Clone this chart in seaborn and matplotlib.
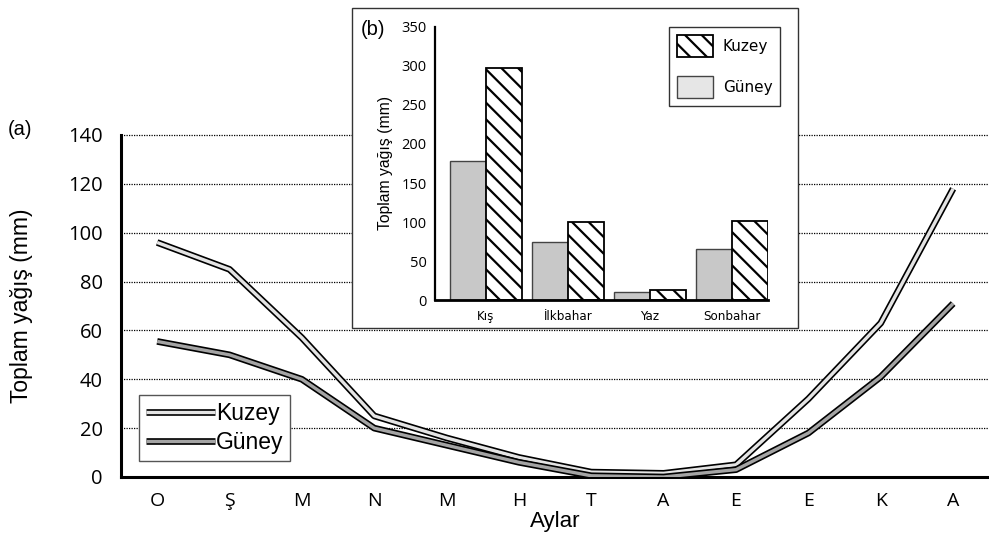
import numpy as np
import pandas as pd
import matplotlib
matplotlib.use('Agg')
import matplotlib.pyplot as plt
import matplotlib.patheffects as pe
from matplotlib.patches import Rectangle, Patch
import seaborn as sns

months = ['O', 'Ş', 'M', 'N', 'M', 'H', 'T', 'A', 'E', 'E', 'K', 'A']
kuzey = [96, 85, 57, 25, 16, 8, 2, 1.5, 5, 32, 63, 118]
guney = [55.5, 50, 40, 20, 13, 6, 0.5, 0, 3, 18, 41, 71]

seasons = ['Kış', 'İlkbahar', 'Yaz', 'Sonbahar']
kuzey_season = [297, 100, 13, 101]
guney_season = [178, 75, 10, 65]

sns.set_style('white')
plt.rcParams['font.family'] = ['Liberation Sans', 'DejaVu Sans']
plt.rcParams['hatch.linewidth'] = 1.6
plt.rcParams['text.color'] = 'black'
plt.rcParams['xtick.color'] = 'black'
plt.rcParams['ytick.color'] = 'black'
plt.rcParams['axes.labelcolor'] = 'black'


def main():
    fig = plt.figure(figsize=(9.89, 5.45), dpi=100)
    ax = fig.add_axes([0.1223, 0.1248, 0.878, 0.6275])

    x = np.arange(len(months))
    df = pd.DataFrame({'x': x, 'Kuzey': kuzey, 'Güney': guney})
    styles = {'Kuzey': '#e4e4e4', 'Güney': '#a4a4a4'}
    for name, col in styles.items():
        sns.lineplot(x='x', y=name, data=df, ax=ax, color=col, linewidth=2.4,
                     label=name, solid_capstyle='butt', zorder=3,
                     path_effects=[pe.Stroke(linewidth=4.8, foreground='black'), pe.Normal()])

    ax.set_xlim(-0.5, 11.5)
    ax.set_ylim(0, 140)
    ax.set_yticks(np.arange(0, 141, 20))
    ax.set_xticks(np.arange(-0.5, 12, 1))
    ax.set_xticklabels([])
    ax.set_xticks(x, minor=True)
    ax.set_xticklabels(months, minor=True, fontfamily='Open Sans')
    for lab in ax.get_yticklabels():
        lab.set_fontfamily('Open Sans')
    ax.tick_params(axis='x', which='major', direction='out', length=5, width=1.5)
    ax.tick_params(axis='x', which='minor', length=0, labelsize=14, pad=11)
    ax.tick_params(axis='y', direction='out', length=5, width=1.5, labelsize=14.5, pad=8)
    for yv in range(20, 141, 20):
        ax.axhline(yv, color='black', linewidth=0.9, linestyle=(0, (1, 1)), zorder=1, clip_on=False)
    sns.despine(ax=ax)
    for s in ['left', 'bottom']:
        ax.spines[s].set_linewidth(2.2)
        ax.spines[s].set_color('black')
    ax.set_xlabel('Aylar', fontsize=16)
    ax.set_ylabel('Toplam yağış (mm)', fontsize=16.5)
    ax.xaxis.set_label_coords(0.5, -0.1)
    ax.yaxis.set_label_coords(-0.101, 0.5)

    leg = ax.legend(loc='lower left', bbox_to_anchor=(0.021, 0.048), fontsize=16.5,
                    handlelength=3.0, handletextpad=0.05, borderpad=0.3,
                    labelspacing=0.25, fancybox=False, framealpha=1, borderaxespad=0)
    leg.get_frame().set_edgecolor('#555555')
    leg.get_frame().set_linewidth(1.0)

    fig.text(0.008, 0.752, '(a)', fontsize=14.5)

    # inset frame
    frame = Rectangle((0.356, 0.398), 0.451, 0.587, transform=fig.transFigure,
                      facecolor='white', edgecolor='#333333', linewidth=1.0, zorder=5)
    fig.patches.append(frame)

    ax2 = fig.add_axes([0.4398, 0.4495, 0.3367, 0.501], zorder=6)
    ax2.patch.set_alpha(0)
    bars = pd.DataFrame({
        'season': seasons * 2,
        'value': guney_season + kuzey_season,
        'group': ['Güney'] * 4 + ['Kuzey'] * 4,
    })
    sns.barplot(x='season', y='value', hue='group', data=bars, ax=ax2,
                hue_order=['Güney', 'Kuzey'], palette=['#c8c8c8', 'white'],
                width=0.88, edgecolor='black', linewidth=1.0, legend=False)
    for i, p in enumerate(ax2.patches):
        if i >= 4:
            p.set_hatch('\\\\')
            p.set_edgecolor('black')
            p.set_linewidth(1.3)
        else:
            p.set_edgecolor('#444444')
    ax2.set_xlim(-0.62, 3.44)
    ax2.set_ylim(0, 350)
    ax2.set_yticks(np.arange(0, 351, 50))
    ax2.tick_params(axis='y', direction='out', length=4, width=1.2, labelsize=10.5, pad=2)
    ax2.tick_params(axis='x', length=0, pad=7)
    for lab in ax2.get_xticklabels():
        lab.set_fontfamily('DejaVu Sans')
        lab.set_fontsize(8.6)
    for lab in ax2.get_yticklabels():
        lab.set_fontfamily('Open Sans')
    sns.despine(ax=ax2)
    ax2.spines['left'].set_linewidth(1.6)
    ax2.spines['bottom'].set_linewidth(2.0)
    ax2.spines['left'].set_color('black')
    ax2.spines['bottom'].set_color('black')
    ax2.set_xlabel('')
    ax2.set_ylabel('Toplam yağış (mm)', fontsize=11.3, labelpad=6)

    handles = [Patch(facecolor='white', edgecolor='black', hatch='\\\\', linewidth=1.3),
               Patch(facecolor='#e6e6e6', edgecolor='#444444', linewidth=1.0)]
    leg2 = ax2.legend(handles, ['Kuzey', 'Güney'], loc='upper right',
                      bbox_to_anchor=(1.036, 1.0),
                      prop={'family': 'DejaVu Sans', 'size': 11},
                      handlelength=2.35, handleheight=1.85, labelspacing=1.25,
                      borderpad=0.5, handletextpad=0.65, fancybox=False,
                      framealpha=1, borderaxespad=0)
    leg2.get_frame().set_edgecolor('#333333')
    leg2.get_frame().set_linewidth(1.0)

    fig.text(0.365, 0.935, '(b)', fontsize=14.5, zorder=7)

    fig.savefig('out.png', dpi=100)


if __name__ == '__main__':
    main()
